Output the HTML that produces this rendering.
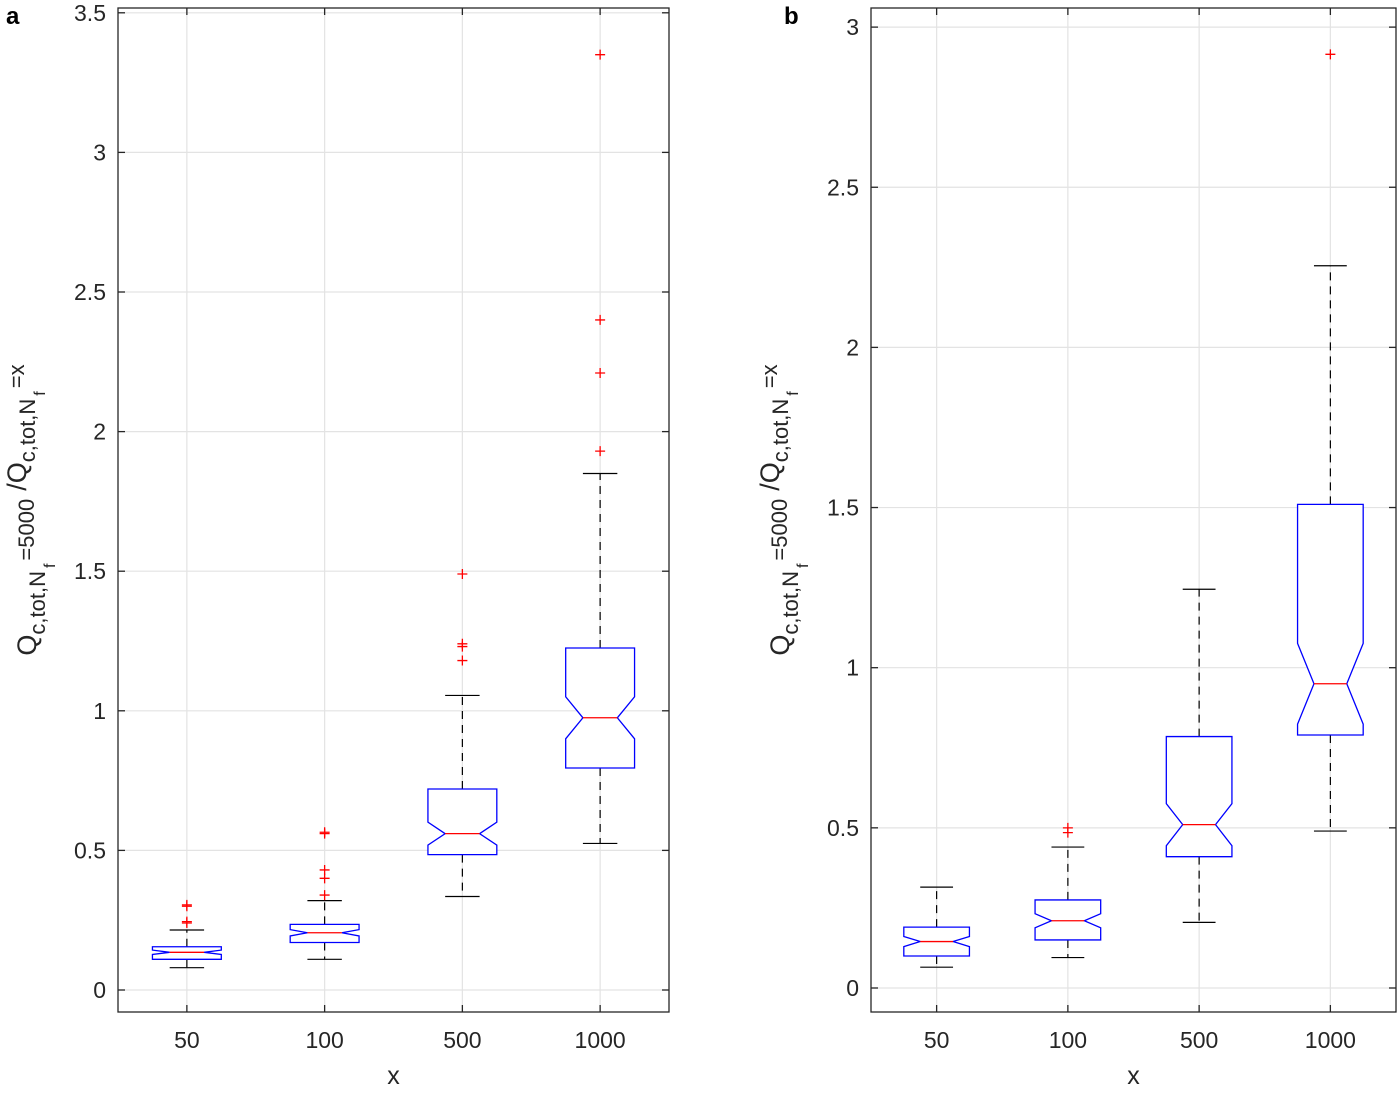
<!DOCTYPE html>
<html><head><meta charset="utf-8"><style>
body{margin:0;background:#fff;}
svg text{font-family:"Liberation Sans",sans-serif;fill:#262626;}
</style></head><body>
<svg id="chart" width="1400" height="1088" xmlns="http://www.w3.org/2000/svg"></svg>
<script>
const categories=["50","100","500","1000"];
const aLow=[0.08,0.11,0.335,0.525];
const aQ1=[0.11,0.17,0.485,0.795];
const aMed=[0.135,0.205,0.56,0.975];
const aQ3=[0.155,0.235,0.72,1.225];
const aHigh=[0.215,0.32,1.055,1.85];
const aOut=[[0.30,0.305,0.24,0.245],[0.565,0.56,0.43,0.40,0.34],[1.49,1.24,1.23,1.18],[3.35,2.40,2.21,1.93]];
const aTicks=[0,0.5,1,1.5,2,2.5,3,3.5];
const bLow=[0.065,0.095,0.205,0.49];
const bQ1=[0.10,0.15,0.41,0.79];
const bMed=[0.145,0.21,0.51,0.95];
const bQ3=[0.19,0.275,0.785,1.51];
const bHigh=[0.315,0.44,1.245,2.255];
const bOut=[[],[0.50,0.485],[],[2.915]];
const bTicks=[0,0.5,1,1.5,2,2.5,3];
const NS="http://www.w3.org/2000/svg";
const svg=document.getElementById('chart');
function mk(tag,attrs,parent){const e=document.createElementNS(NS,tag);for(const k in attrs)e.setAttribute(k,attrs[k]);(parent||svg).appendChild(e);return e;}
function panel(p){
  const g=mk('g',{});
  
  
  const X=v=>p.x0+(v-0.5)/4*(p.x1-p.x0);
  const Y=v=>p.zero-v*p.unit;
  const yb=1012, yt=8;
  p.ticks.forEach(t=>{const l=mk('line',{x1:p.x0,x2:p.x1,y1:Y(t),y2:Y(t),stroke:'#e3e3e3','stroke-width':1.2},g);
    });
  categories.forEach((c,i)=>{const l=mk('line',{x1:X(i+1),x2:X(i+1),y1:yb,y2:yt,stroke:'#e3e3e3','stroke-width':1.2},g);
    });
  const hw=0.25*(X(2)-X(1)), nw=hw/2, cap=hw/2;
  categories.forEach((c,i)=>{
    const bg=mk('g',{},g);
    
    
    const cx=X(i+1),q1=p.q1[i],q3=p.q3[i],m=p.med[i],iqr=q3-q1;
    const nlo=m-0.175*iqr,nhi=m+0.175*iqr;
    mk('line',{x1:cx,x2:cx,y1:Y(q3),y2:Y(p.high[i]),stroke:'#000','stroke-width':1.2,'stroke-dasharray':'8,6'},bg);
    mk('line',{x1:cx,x2:cx,y1:Y(q1),y2:Y(p.low[i]),stroke:'#000','stroke-width':1.2,'stroke-dasharray':'8,6'},bg);
    mk('line',{x1:cx-cap,x2:cx+cap,y1:Y(p.high[i]),y2:Y(p.high[i]),stroke:'#000','stroke-width':1.2},bg);
    mk('line',{x1:cx-cap,x2:cx+cap,y1:Y(p.low[i]),y2:Y(p.low[i]),stroke:'#000','stroke-width':1.2},bg);
    const pts=[[cx-hw,Y(q1)],[cx-hw,Y(nlo)],[cx-nw,Y(m)],[cx-hw,Y(nhi)],[cx-hw,Y(q3)],[cx+hw,Y(q3)],[cx+hw,Y(nhi)],[cx+nw,Y(m)],[cx+hw,Y(nlo)],[cx+hw,Y(q1)]];
    mk('polygon',{points:pts.map(q=>q.join(',')).join(' '),fill:'#fff',stroke:'#0000ff','stroke-width':1.3},bg);
    mk('line',{x1:cx-nw,x2:cx+nw,y1:Y(m),y2:Y(m),stroke:'#ff0000','stroke-width':1.3},bg);
    p.out[i].forEach(o=>{const y=Y(o);
      const pt=mk('path',{d:`M${cx-5},${y}H${cx+5}M${cx},${y-5}V${y+5}`,stroke:'#ff0000','stroke-width':1.3},bg);
      });
  });
  const ax=mk('rect',{x:p.x0,y:yt,width:p.x1-p.x0,height:yb-yt,fill:'none',stroke:'#262626','stroke-width':1.3},g);
  
  p.ticks.forEach(t=>{
    mk('line',{x1:p.x0,x2:p.x0+7,y1:Y(t),y2:Y(t),stroke:'#262626','stroke-width':1.3},g);
    mk('line',{x1:p.x1,x2:p.x1-7,y1:Y(t),y2:Y(t),stroke:'#262626','stroke-width':1.3},g);
    const tx=mk('text',{x:p.x0-12,y:Y(t)+8,'text-anchor':'end','font-size':23},g);
    tx.textContent=String(t);
    
  });
  categories.forEach((c,i)=>{
    mk('line',{x1:X(i+1),x2:X(i+1),y1:yb,y2:yb-7,stroke:'#262626','stroke-width':1.3},g);
    mk('line',{x1:X(i+1),x2:X(i+1),y1:yt,y2:yt+7,stroke:'#262626','stroke-width':1.3},g);
    const tx=mk('text',{x:X(i+1),y:1048,'text-anchor':'middle','font-size':23},g);
    tx.textContent=c;
    
  });
  const xl=mk('text',{x:(p.x0+p.x1)/2,y:1084,'text-anchor':'middle','font-size':25},g);
  xl.textContent='x';
  const yl=mk('text',{transform:`translate(${p.ylx},${p.yly}) rotate(-90)`,'text-anchor':'middle','font-size':27},g);
  yl.innerHTML='Q<tspan font-size="22" dy="9">c,tot,N</tspan><tspan font-size="16" dy="10" dx="3">f</tspan><tspan font-size="22" dy="-21" dx="3">=5000</tspan><tspan font-size="27" dy="-8" dx="8">/Q</tspan><tspan font-size="22" dy="9">c,tot,N</tspan><tspan font-size="16" dy="10" dx="3">f</tspan><tspan font-size="22" dy="-21" dx="3">=x</tspan>';
  
  const lt=mk('text',{x:p.lx,y:24,'font-size':24,'font-weight':'bold',style:'fill:#000'},g);
  lt.textContent=p.letter;
}
panel({letter:'a',x0:118,x1:669,zero:990,unit:279.2,ylx:36,yly:510,lx:6,
  ticks:aTicks,low:aLow,q1:aQ1,med:aMed,q3:aQ3,high:aHigh,out:aOut});
panel({letter:'b',x0:871,x1:1396,zero:988,unit:320.3,ylx:789,yly:510,lx:784,
  ticks:bTicks,low:bLow,q1:bQ1,med:bMed,q3:bQ3,high:bHigh,out:bOut});
</script>
</body></html>
